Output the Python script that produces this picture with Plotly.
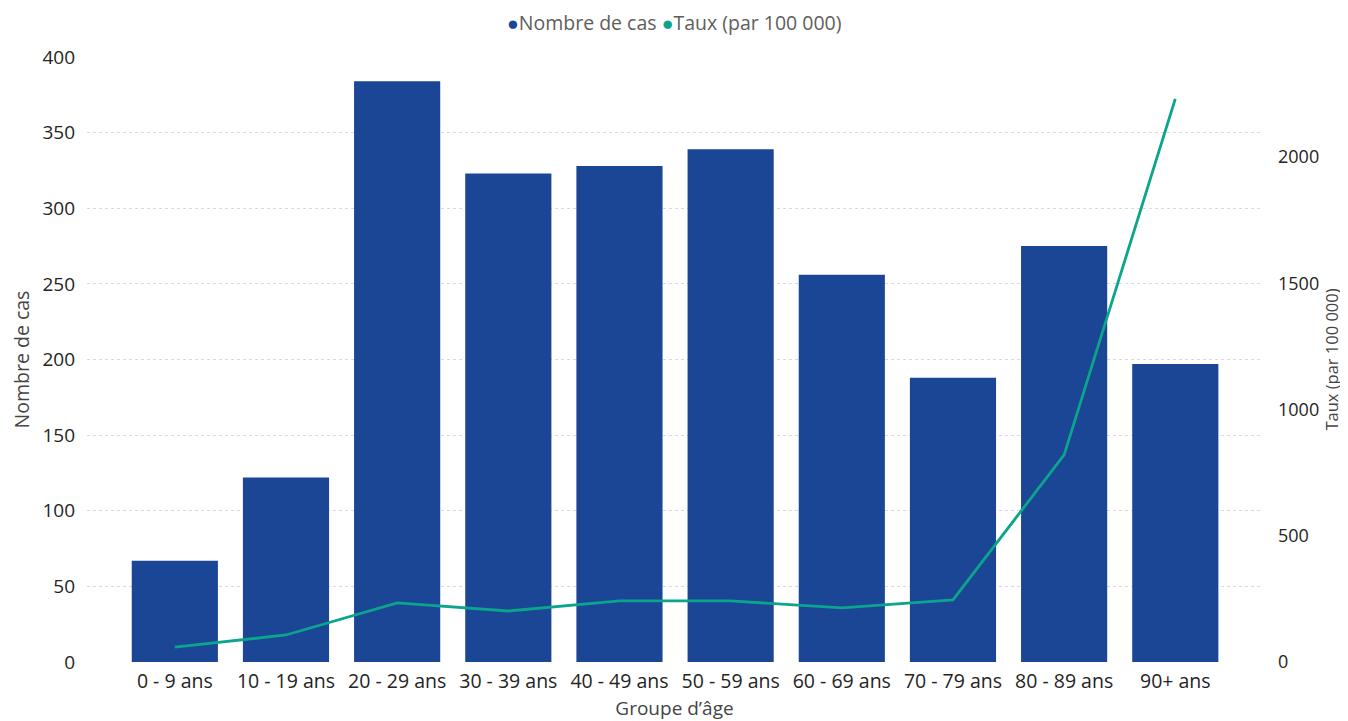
import plotly.graph_objects as go

categories = ["0 - 9 ans", "10 - 19 ans", "20 - 29 ans", "30 - 39 ans", "40 - 49 ans",
              "50 - 59 ans", "60 - 69 ans", "70 - 79 ans", "80 - 89 ans", "90+ ans"]
nombre_cas = [67, 122, 384, 323, 328, 339, 256, 188, 275, 197]
taux = [59, 107, 234, 202, 242, 242, 214, 246, 820, 2230]

left_ticks = [0, 50, 100, 150, 200, 250, 300, 350, 400]
right_ticks = [0, 500, 1000, 1500, 2000]

BAR = "#1B4595"
LINE = "#0BA48C"
FONT = "Open Sans, Noto Sans, sans-serif"
TXT = "#252423"

fig = go.Figure()
fig.add_trace(go.Bar(x=categories, y=nombre_cas, name="Nombre de cas",
                     marker=dict(color=BAR, line=dict(width=0)), showlegend=False,
                     yaxis="y"))
fig.add_trace(go.Scatter(x=categories, y=taux, name="Taux (par 100 000)", mode="lines",
                         line=dict(color=LINE, width=2.8), showlegend=False,
                         yaxis="y2"))

legend_text = (f"<span style='color:{BAR}'>●</span>Nombre de cas "
               f"<span style='color:{LINE}'>●</span>Taux (par 100 000)")

fig.update_layout(
    width=1340, height=713,
    margin=dict(l=79, r=86, t=49, b=59, autoexpand=False),
    paper_bgcolor="white", plot_bgcolor="white",
    font=dict(family=FONT, color=TXT),
    bargap=0.225,
    showlegend=False,
    annotations=[dict(text=legend_text, xref="paper", yref="paper", x=0.5, y=1.0,
                      yshift=35, xanchor="center", yanchor="middle", showarrow=False,
                      font=dict(size=19.5, color="#605E5C"))],
    xaxis=dict(range=[-0.79, 9.78], showgrid=False, zeroline=False, showline=False,
               tickfont=dict(size=19.5, color=TXT), ticks="", ticklabelstandoff=5,
               title=dict(text="Groupe d’âge", font=dict(size=19, color="#444444"), standoff=15)),
    yaxis=dict(range=[0, 400], tickvals=left_ticks, showgrid=True, gridcolor="#DADADA",
               griddash="dot", gridwidth=1, zeroline=False, showline=False,
               tickfont=dict(size=19, color=TXT), ticks="", ticklabelstandoff=11,
               title=dict(text="Nombre de cas", font=dict(size=19.5, color="#444444"), standoff=8)),
    yaxis2=dict(range=[0, 2396], tickvals=right_ticks, overlaying="y", side="right",
                showgrid=False, zeroline=False, showline=False,
                tickfont=dict(size=18, color=TXT), ticks="", ticklabelstandoff=15,
                title=dict(text="Taux (par 100 000)", font=dict(size=16.5, color="#444444"), standoff=8)),
)

fig.write_html("out.html")
